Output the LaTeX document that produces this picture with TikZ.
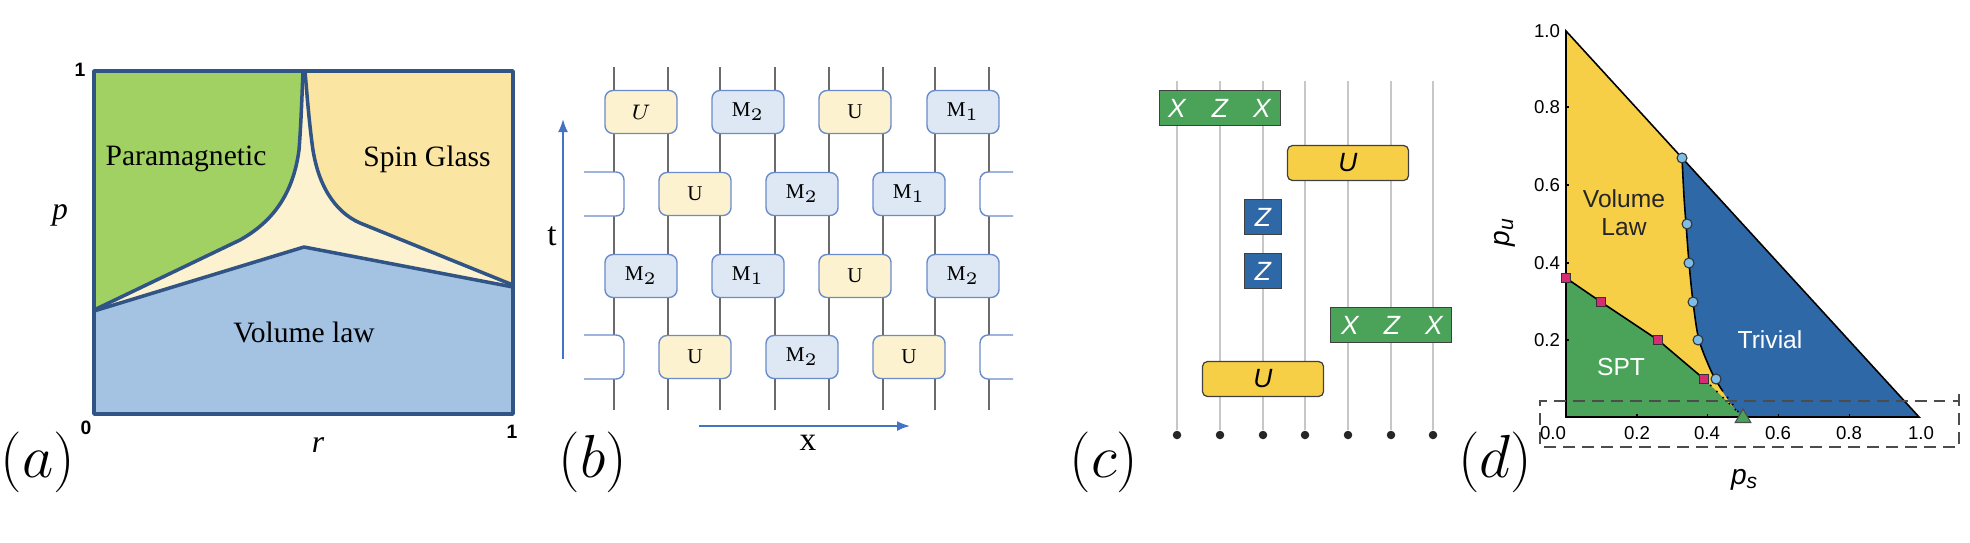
\documentclass[tikz,border=0pt]{standalone}
\usepackage{amsmath,amssymb}
\usepackage{fontspec}
\setmainfont{Liberation Serif}
\setsansfont{Liberation Sans}
\usetikzlibrary{shapes.geometric,arrows.meta}
\definecolor{pgreen}{HTML}{A1D162}
\definecolor{pyellow}{HTML}{FBE5A3}
\definecolor{pcream}{HTML}{FDF2CF}
\definecolor{pblue}{HTML}{A4C2E2}
\definecolor{pline}{HTML}{2F5485}
\definecolor{gatecream}{HTML}{FDF2D0}
\definecolor{gateblue}{HTML}{DEE8F5}
\definecolor{gateline}{HTML}{6A8CCB}
\definecolor{axisblue}{HTML}{4472C4}
\definecolor{dgreen}{HTML}{4BA35A}
\definecolor{dyellow}{HTML}{F6CF47}
\definecolor{dblue}{HTML}{2F68A6}
\definecolor{dcircle}{HTML}{7DBDE8}
\definecolor{dpink}{HTML}{D62C74}
\newcommand{\fs}[1]{\fontsize{#1}{#1}\selectfont}

\begin{document}
\begin{tikzpicture}[x=0.01cm,y=-0.01cm,
  every node/.style={inner sep=0pt},
  panellabel/.style={font=\fs{16}},
  phase/.style={font=\fs{8.4}},
  corner/.style={font=\fs{5.5}\sffamily\bfseries},
  phaseline/.style={draw=pline,line width=1pt,line join=round},
  wire/.style={draw=black!58,line width=0.4pt},
  ugate/.style={draw=gateline,fill=gatecream,rounded corners=0.08cm,line width=0.4pt,
    minimum width=0.72cm,minimum height=0.43cm,font=\fs{6}},
  mgate/.style={ugate,fill=gateblue},
  stub/.style={draw=gateline,fill=white,line width=0.4pt,rounded corners=0.08cm},
  axisarrow/.style={draw=axisblue,line width=0.55pt,-{Latex[length=1.3mm,width=1mm]}},
  qwire/.style={draw=black!22,line width=0.4pt},
  qubit/.style={circle,fill=black!85,minimum size=0.085cm},
  xzx/.style={rectangle,draw=black!75,fill=dgreen,line width=0.35pt,minimum width=1.21cm,minimum height=0.35cm},
  zbox/.style={rectangle,draw=black!75,fill=dblue,line width=0.35pt,minimum width=0.37cm,minimum height=0.35cm,
    text=white,font=\fs{7.5}\sffamily\itshape},
  ubox/.style={rectangle,draw=black!75,fill=dyellow,line width=0.35pt,rounded corners=0.05cm,
    minimum width=1.21cm,minimum height=0.35cm,font=\fs{7.5}\sffamily\itshape},
  pauli/.style={text=white,font=\fs{7.5}\sffamily\itshape},
  ticklabel/.style={font=\fs{5.3}\sffamily},
  region/.style={font=\fs{7}\sffamily},
  circpt/.style={circle,draw=black!80,fill=dcircle,line width=0.3pt,minimum size=0.1cm},
  sqpt/.style={rectangle,draw=black!80,fill=dpink,line width=0.3pt,minimum size=0.085cm},
  tript/.style={regular polygon,regular polygon sides=3,draw=black!70,fill=dgreen,line width=0.3pt,minimum size=0.18cm}]
\useasboundingbox (0,0) rectangle (1970,542);

\fill[pcream] (94,71) rectangle (513,414);
\fill[pgreen] (94,71) -- (303,71) .. controls (302,95) and (301,125) .. (299,150)
  .. controls (293,195) and (272,222) .. (240,240) -- (94,310) -- cycle;
\fill[pyellow] (513,71) -- (305,71) .. controls (307,95) and (309,120) .. (312,143)
  .. controls (317,185) and (335,212) .. (360,223) -- (513,285) -- cycle;
\fill[pblue] (94,311) -- (304,247) -- (513,287) -- (513,414) -- (94,414) -- cycle;
\draw[phaseline] (94,310) -- (240,240) .. controls (272,222) and (293,195) .. (299,150)
  .. controls (301,125) and (302,95) .. (303,71);
\draw[phaseline] (513,285) -- (360,223) .. controls (335,212) and (317,185) .. (312,143)
  .. controls (309,120) and (307,95) .. (305,71);
\draw[phaseline] (94,311) -- (304,247) -- (513,287);
\draw[phaseline] (94,71) rectangle (513,414);
\node[phase] (para) at (186,159) {Paramagnetic};
\node[phase] (spin) at (427,159) {Spin Glass};
\node[phase] (vol) at (304,332) {Volume law};
\node[font=\fs{9}\itshape] (pax) at (60,215) {p};
\node[font=\fs{9}\itshape] (rax) at (318,445) {r};
\node[corner] (one) at (80,70) {1};
\node[corner] (zero) at (86,428) {0};
\node[corner] (onex) at (512,432) {1};
\node[panellabel] (la) at (38,462) {$(a)$};

\foreach \x [count=\i] in {614,668,720,775,829,883,935,989} {
  \coordinate (wt\i) at (\x,67);
  \coordinate (wb\i) at (\x,410);
  \draw[wire] (wt\i) -- (wb\i);
}
\foreach \x/\y/\k/\t [count=\i] in {
  641/112/ugate/$U$,748/112/mgate/$\mathrm{M}_2$,855/112/ugate/U,963/112/mgate/$\mathrm{M}_1$,
  695/194/ugate/U,802/194/mgate/$\mathrm{M}_2$,909/194/mgate/$\mathrm{M}_1$,
  641/276/mgate/$\mathrm{M}_2$,748/276/mgate/$\mathrm{M}_1$,855/276/ugate/U,963/276/mgate/$\mathrm{M}_2$,
  695/357/ugate/U,802/357/mgate/$\mathrm{M}_2$,909/357/ugate/U} {
  \node[\k] (g\i) at (\x,\y) {\t\hspace{0.05cm}};
}
\foreach \y in {194,357} {
  \filldraw[stub] (584,\y-22) -- (624,\y-22) -- (624,\y+22) -- (584,\y+22);
  \filldraw[stub] (1013,\y-22) -- (980,\y-22) -- (980,\y+22) -- (1013,\y+22);
}
\coordinate (tstart) at (563,359);
\coordinate (tend) at (563,119);
\coordinate (xstart) at (699,426);
\coordinate (xend) at (910,426);
\draw[axisarrow] (tstart) -- (tend);
\draw[axisarrow] (xstart) -- (xend);
\node[font=\fs{9.5}] (tlab) at (552,236) {t};
\node[font=\fs{9.5}] (xlab) at (808,443) {x};
\node[panellabel] (lb) at (593,462) {$(b)$};

\foreach \x [count=\i] in {1177,1220,1263,1305,1348,1391,1433} {
  \coordinate (qt\i) at (\x,81);
  \node[qubit] (q\i) at (\x,435) {};
  \draw[qwire] (qt\i) -- (q\i);
}
\node[xzx] (s1) at (1220,108) {};
\node[pauli] at (1177,108) {X};
\node[pauli] at (1220,108) {Z};
\node[pauli] at (1262,108) {X};
\node[ubox] (u1) at (1348,163) {U};
\node[zbox] (z1) at (1263,217) {Z};
\node[zbox] (z2) at (1263,271) {Z};
\node[xzx] (s2) at (1391,325) {};
\node[pauli] at (1350,325) {X};
\node[pauli] at (1392,325) {Z};
\node[pauli] at (1434,325) {X};
\node[ubox] (u2) at (1263,379) {U};
\node[panellabel] (lc) at (1104,462) {$(c)$};

\def\bound{(1682,158) (1684,197) (1686,224) (1689,263) (1693,302) (1699,340) (1712,373) (1730,403) (1742,417)}
\fill[dyellow] (1566,31) -- (1682,158) -- (1742,417) -- (1704,379) -- (1658,340) -- (1566,278) -- cycle;
\fill[dblue] plot[smooth] coordinates {\bound} -- (1919,417) -- cycle;
\fill[dgreen] (1566,278) -- (1601,302) -- (1658,340) -- (1704,379) -- (1743,417) -- (1566,417) -- cycle;
\draw[black,line width=0.45pt] (1566,417) -- (1566,31) -- (1919,417) -- cycle;
\draw[black,line width=0.45pt] plot[smooth] coordinates {(1682,158) (1684,197) (1686,224) (1689,263) (1693,302) (1699,340) (1712,373) (1722,390)};
\draw[black,line width=0.45pt,dotted] (1722,390) -- (1742,417);
\draw[black,line width=0.45pt] (1566,278) -- (1601,302) -- (1658,340) -- (1704,379);
\draw[black,line width=0.45pt,dotted] (1704,379) -- (1743,417);
\foreach \x in {1637,1707,1778,1849} \draw[black,line width=0.3pt] (\x,417) -- (\x,414);
\foreach \y in {107,185,263,340} \draw[black,line width=0.3pt] (1566,\y) -- (1569,\y);
\foreach \x/\t [count=\i] in {1553/0.0,1637/0.2,1707/0.4,1778/0.6,1849/0.8,1921/1.0}
  \node[ticklabel] (tx\i) at (\x,433) {\t};
\foreach \y/\t [count=\i] in {340/0.2,263/0.4,185/0.6,107/0.8,31/1.0}
  \node[ticklabel] (ty\i) at (1547,\y) {\t};
\foreach \x/\y [count=\i] in {1682/158,1687/224,1689/263,1693/302,1698/340,1716/379}
  \node[circpt] (c\i) at (\x,\y) {};
\foreach \x/\y [count=\i] in {1566/278,1601/302,1658/340,1704/379}
  \node[sqpt] (m\i) at (\x,\y) {};
\node[tript] (tri) at (1743,418) {};
\draw[black!70,line width=0.35pt,dash pattern=on 3.4pt off 2pt] (1959,394) -- (1959,447) -- (1540,447) -- (1540,401) -- (1959,401);
\node[region,align=center,text=black!85] (vl) at (1624,213) {Volume\\[1pt]Law};
\node[region,text=white] (triv) at (1770,340) {Trivial};
\node[region,text=white] (spt) at (1621,367) {SPT};
\node[font=\fs{8}\sffamily\itshape,rotate=90] (pu) at (1505,232) {p\textsubscript{u}};
\node[font=\fs{8}\sffamily\itshape] (ps) at (1745,480) {p\textsubscript{s}};
\node[panellabel] (ld) at (1495,462) {$(d)$};
\end{tikzpicture}
\end{document}
